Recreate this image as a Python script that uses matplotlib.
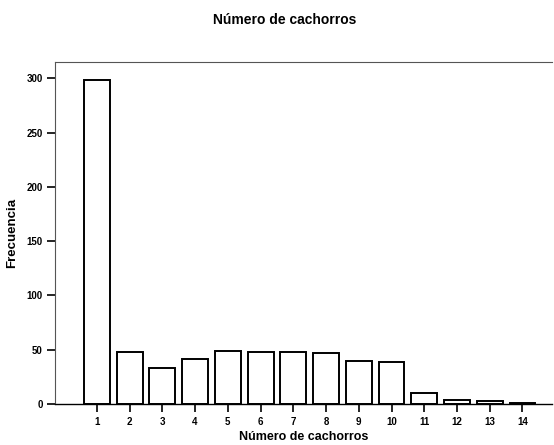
import matplotlib
matplotlib.use("Agg")
import matplotlib.pyplot as plt

categories = [1, 2, 3, 4, 5, 6, 7, 8, 9, 10, 11, 12, 13, 14]
frequencies = [298, 48, 33, 41, 49, 48, 48, 47, 40, 39, 10, 4, 3, 1]
y_ticks = [0, 50, 100, 150, 200, 250, 300]

plt.rcParams['font.family'] = ['Liberation Sans', 'DejaVu Sans']

fig = plt.figure(figsize=(5.54, 4.45), dpi=100)
ax = fig.add_axes([0.0993, 0.0921, 0.897, 0.7686])

ax.bar(categories, frequencies, width=0.79, color='white', edgecolor='black', linewidth=1.4)

ax.set_xlim(-0.28, 14.9)
ax.set_ylim(0, 315)
ax.set_xticks(categories)
ax.set_yticks(y_ticks)
ax.tick_params(axis='both', direction='out', length=6, width=1.2, labelsize=7, pad=3)
for lbl in ax.get_xticklabels() + ax.get_yticklabels():
    lbl.set_fontweight('bold')

ax.spines['right'].set_visible(False)
ax.spines['top'].set_linewidth(0.8)
ax.spines['top'].set_color('#555555')
ax.spines['left'].set_linewidth(0.8)
ax.spines['left'].set_color('#555555')
ax.spines['bottom'].set_linewidth(1.0)

ax.set_xlabel('Número de cachorros', fontsize=9, fontweight='bold', labelpad=3)
ax.set_ylabel('Frecuencia', fontsize=9.5, fontweight='bold', labelpad=6)
fig.text(0.514, 0.955, 'Número de cachorros', fontsize=10, fontweight='bold',
         ha='center', va='center')

fig.savefig('out.png', dpi=100)
